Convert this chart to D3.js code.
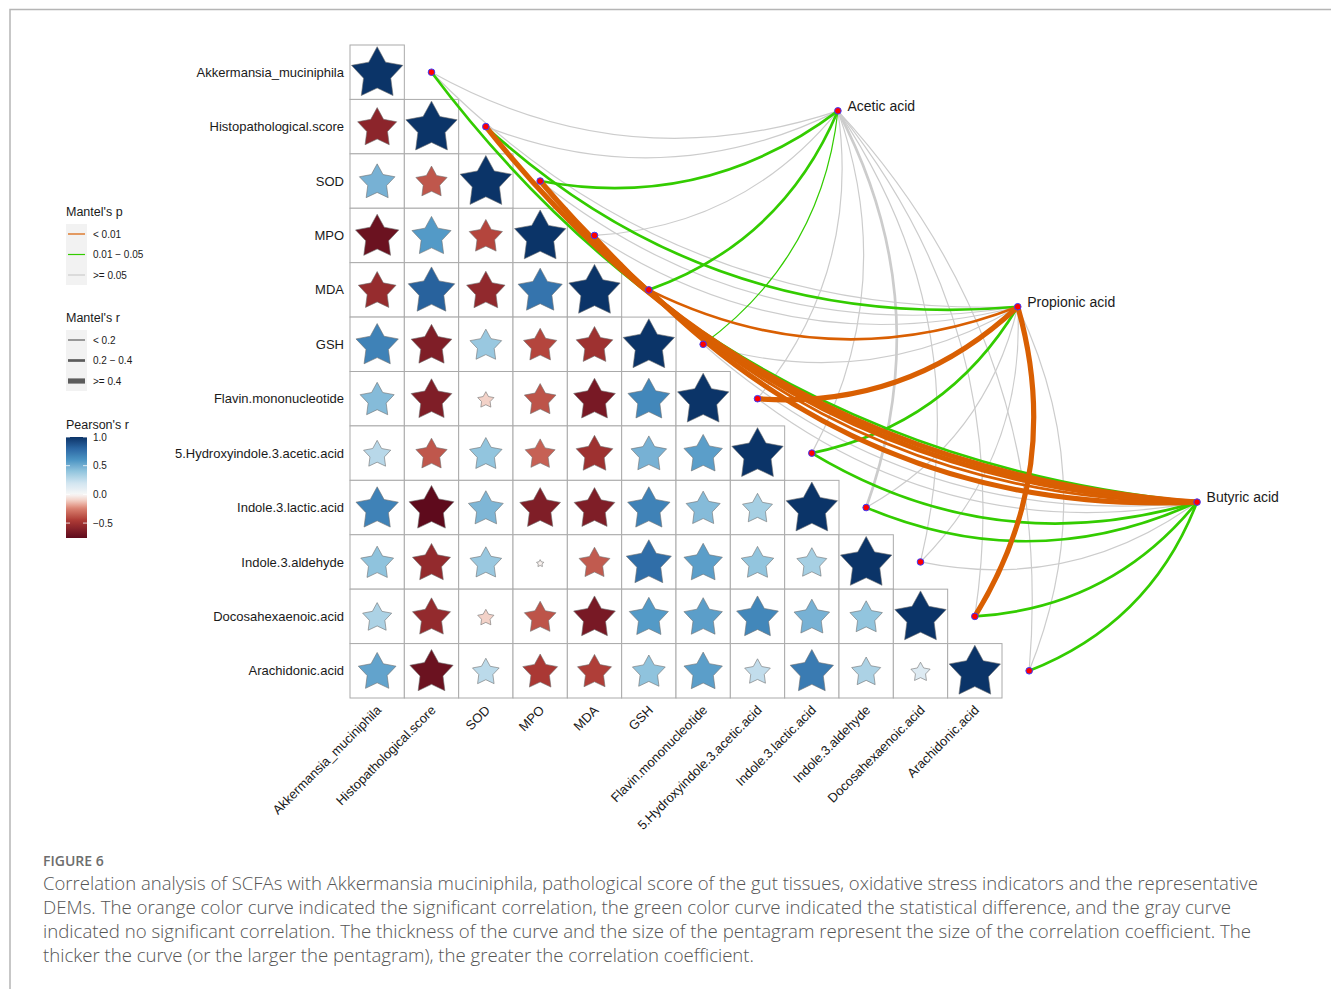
<!DOCTYPE html>
<html>
<head>
<meta charset="utf-8">
<script src="https://cdn.jsdelivr.net/npm/d3@7"></script>
<style>
  body { margin: 0; background: #fff; }
  svg { display: block; }
  .lab { font-family: "Liberation Sans", Arial, Helvetica, sans-serif; fill: #1a1a1a; }
  .cap { font-family: "Open Sans", "Noto Sans", sans-serif; }
</style>
</head>
<body>
<svg id="chart" width="1331" height="989"></svg>
<script>
// ---- variables shown on both axes of the correlation triangle ----
const variables = [
  "Akkermansia_muciniphila", "Histopathological.score", "SOD", "MPO", "MDA", "GSH",
  "Flavin.mononucleotide", "5.Hydroxyindole.3.acetic.acid", "Indole.3.lactic.acid",
  "Indole.3.aldehyde", "Docosahexaenoic.acid", "Arachidonic.acid"
];

// Pearson's r, lower triangle (row i holds columns 0..i)
const pearsonRows = [
  [1],
  [-0.58, 1],
  [0.48, -0.37, 1],
  [-0.71, 0.58, -0.42, 1],
  [-0.54, 0.82, -0.56, 0.74, 1],
  [0.68, -0.63, 0.38, -0.42, -0.51, 1],
  [0.44, -0.63, -0.10, -0.38, -0.66, 0.66, 1],
  [0.28, -0.37, 0.40, -0.34, -0.51, 0.48, 0.56, 1],
  [0.68, -0.76, 0.46, -0.63, -0.63, 0.68, 0.44, 0.34, 1],
  [0.41, -0.55, 0.38, -0.02, -0.36, 0.77, 0.56, 0.40, 0.34, 1],
  [0.32, -0.55, -0.10, -0.38, -0.66, 0.58, 0.56, 0.66, 0.48, 0.40, 1],
  [0.54, -0.71, 0.27, -0.46, -0.44, 0.41, 0.56, 0.25, 0.71, 0.32, 0.14, 1]
];

// ---- SCFAs linked by Mantel tests ----
const scfaNames = ["Acetic acid", "Propionic acid", "Butyric acid"];
// node placement of each SCFA in cell units (column, row) of the grid
const scfaCellPos = [[8.98, 1.21], [12.29, 4.81], [15.59, 8.40]];

// Mantel's r and p per variable (same order as `variables`)
const mantelR_acetic    = [0.12, 0.15, 0.28, 0.10, 0.25, 0.16, 0.14, 0.12, 0.27, 0.11, 0.09, 0.13];
const mantelP_acetic    = [0.21, 0.15, 0.030, 0.32, 0.040, 0.045, 0.18, 0.26, 0.08, 0.41, 0.52, 0.36];
const mantelR_propionic = [0.11, 0.29, 0.13, 0.15, 0.32, 0.12, 0.47, 0.27, 0.10, 0.09, 0.46, 0.14];
const mantelP_propionic = [0.24, 0.020, 0.18, 0.12, 0.008, 0.31, 0.002, 0.030, 0.36, 0.44, 0.003, 0.16];
const mantelR_butyric   = [0.30, 0.48, 0.45, 0.36, 0.44, 0.14, 0.15, 0.28, 0.26, 0.13, 0.29, 0.31];
const mantelP_butyric   = [0.020, 0.001, 0.002, 0.004, 0.003, 0.11, 0.09, 0.020, 0.030, 0.19, 0.020, 0.015];

const mantelR = [mantelR_acetic, mantelR_propionic, mantelR_butyric];
const mantelP = [mantelP_acetic, mantelP_propionic, mantelP_butyric];

// legend text
const pLegendLabels = ["< 0.01", "0.01 \u2212 0.05", ">= 0.05"];
const rLegendLabels = ["< 0.2", "0.2 \u2212 0.4", ">= 0.4"];
const colorbarTicks = [1.0, 0.5, 0.0, -0.5];

const captionTitle = "FIGURE 6";
const captionLines = [
  "Correlation analysis of SCFAs with Akkermansia muciniphila, pathological score of the gut tissues, oxidative stress indicators and the representative",
  "DEMs. The orange color curve indicated the significant correlation, the green color curve indicated the statistical difference, and the gray curve",
  "indicated no significant correlation. The thickness of the curve and the size of the pentagram represent the size of the correlation coefficient. The",
  "thicker the curve (or the larger the pentagram), the greater the correlation coefficient."
];

// ------------------------------------------------------------------
const svg = d3.select("#chart");
const n = variables.length;

// grid scales (cell index -> pixels)
const gx = d3.scaleLinear().domain([0, n]).range([350, 1002]);
const gy = d3.scaleLinear().domain([0, n]).range([45, 698]);
const cellW = gx(1) - gx(0), cellH = gy(1) - gy(0);

// flatten the triangle
const cells = [];
pearsonRows.forEach((row, i) => row.forEach((r, j) => cells.push({ i, j, r })));
const rMin = d3.min(cells, d => d.r);

// fill colour (RdBu style, white at zero)
const negColor = d3.scaleLinear()
  .domain([rMin, -0.62, -0.45, -0.25, -0.1, 0])
  .range(["#5e0a1c", "#821f28", "#ad3a35", "#d98070", "#f3d2c8", "#f7f7f7"])
  .interpolate(d3.interpolateLab).clamp(true);
const posColor = d3.scaleLinear()
  .domain([0, 0.2, 0.4, 0.6, 0.8, 1])
  .range(["#f7f7f7", "#d1e5f0", "#92c5de", "#4b95c4", "#2b67a3", "#0b3468"])
  .interpolate(d3.interpolateLab).clamp(true);
const fillColor = r => (r < 0 ? negColor(r) : posColor(r));

// star size: area proportional to |r|
const starR = d3.scaleSqrt().domain([0, 1]).range([0, 27]);

function starPath(R, ratio) {
  const pts = [];
  for (let k = 0; k < 10; k++) {
    const a = -Math.PI / 2 + k * Math.PI / 5;
    const rr = k % 2 === 0 ? R : R * ratio;
    pts.push([rr * Math.cos(a), rr * Math.sin(a)]);
  }
  return "M" + pts.map(p => p[0].toFixed(2) + "," + p[1].toFixed(2)).join("L") + "Z";
}

// ---- frame around the figure ----
svg.append("path")
  .attr("d", "M10,989V9.5H1331")
  .attr("fill", "none").attr("stroke", "#b5b5b5").attr("stroke-width", 1.5);

// ---- grid cells ----
const gCells = svg.append("g");
gCells.selectAll("rect").data(cells).join("rect")
  .attr("x", d => gx(d.j)).attr("y", d => gy(d.i))
  .attr("width", cellW).attr("height", cellH)
  .attr("fill", "#fff").attr("stroke", "#aaaaaa").attr("stroke-width", 1);

// ---- stars ----
gCells.selectAll("path.star").data(cells).join("path")
  .attr("class", "star")
  .attr("transform", d => `translate(${gx(d.j + 0.5)},${gy(d.i + 0.5) + 1.5})`)
  .attr("d", d => starPath(starR(Math.abs(d.r)), 0.53))
  .attr("fill", d => fillColor(d.r))
  .attr("stroke", "#707070").attr("stroke-width", 0.6);

// ---- row labels ----
svg.append("g").selectAll("text").data(variables).join("text")
  .attr("class", "lab")
  .attr("x", 344).attr("y", (d, i) => gy(i + 0.5))
  .attr("dy", "0.35em").attr("text-anchor", "end")
  .attr("font-size", 13).text(d => d);

// ---- column labels (rotated) ----
svg.append("g").selectAll("text").data(variables).join("text")
  .attr("class", "lab")
  .attr("transform", (d, i) => `translate(${gx(i + 0.5) + 5},${711}) rotate(-45)`)
  .attr("text-anchor", "end").attr("font-size", 13).text(d => d);

// ---- Mantel links ----
const pColor = d3.scaleThreshold().domain([0.01, 0.05]).range(["#d95f02", "#33cc00", "#cccccc"]);
const rWidth = d3.scaleThreshold().domain([0.2, 0.4]).range([1.2, 2.7, 5.2]);
const pRank = d3.scaleThreshold().domain([0.01, 0.05]).range([2, 1, 0]);

const nodePos = i => [gx(i + 1.5), gy(i + 0.5)];
const scfaPos = scfaCellPos.map(p => [gx(p[0]), gy(p[1])]);

const links = [];
scfaNames.forEach((s, k) => {
  variables.forEach((v, i) => {
    links.push({ k, i, r: mantelR[k][i], p: mantelP[k][i] });
  });
});
links.sort((a, b) => pRank(a.p) - pRank(b.p) || a.r - b.r);

const curvature = 0.11; // sagitta as a share of the chord length
function curvePath(a, b) {
  const dx = b[0] - a[0], dy = b[1] - a[1];
  const L = Math.hypot(dx, dy);
  const nx = -dy / L, ny = dx / L;
  const off = 2 * curvature * L;
  const cx = (a[0] + b[0]) / 2 + nx * off, cy = (a[1] + b[1]) / 2 + ny * off;
  const p = d3.path();
  p.moveTo(a[0], a[1]);
  p.quadraticCurveTo(cx, cy, b[0], b[1]);
  return p.toString();
}

svg.append("g").selectAll("path").data(links).join("path")
  .attr("d", d => curvePath(nodePos(d.i), scfaPos[d.k]))
  .attr("fill", "none")
  .attr("stroke", d => pColor(d.p))
  .attr("stroke-width", d => rWidth(d.r))
  .attr("stroke-linecap", "butt");

// ---- nodes ----
const gNodes = svg.append("g");
gNodes.selectAll("circle.v").data(variables).join("circle")
  .attr("class", "v")
  .attr("cx", (d, i) => nodePos(i)[0]).attr("cy", (d, i) => nodePos(i)[1])
  .attr("r", 3.3).attr("fill", "#ff0000").attr("stroke", "#3b3bff").attr("stroke-width", 1);
gNodes.selectAll("circle.s").data(scfaNames).join("circle")
  .attr("class", "s")
  .attr("cx", (d, k) => scfaPos[k][0]).attr("cy", (d, k) => scfaPos[k][1])
  .attr("r", 3.3).attr("fill", "#ff0000").attr("stroke", "#3b3bff").attr("stroke-width", 1);
gNodes.selectAll("text").data(scfaNames).join("text")
  .attr("class", "lab")
  .attr("x", (d, k) => scfaPos[k][0] + 9.5).attr("y", (d, k) => scfaPos[k][1] - 5)
  .attr("dy", "0.35em").attr("font-size", 14).text(d => d);

// ---- legends ----
const lg = svg.append("g").attr("class", "lab");

// Mantel's p
lg.append("text").attr("x", 66).attr("y", 216).attr("font-size", 12.5).text("Mantel's p");
lg.append("rect").attr("x", 66).attr("y", 224).attr("width", 21).attr("height", 61).attr("fill", "#f2f2f2");
const pKeyVals = [0.005, 0.03, 0.2];
pKeyVals.forEach((v, q) => {
  const y = 234 + q * 20.5;
  lg.append("line").attr("x1", 68).attr("x2", 85).attr("y1", y).attr("y2", y)
    .attr("stroke", pColor(v)).attr("stroke-width", 1.2);
  lg.append("text").attr("x", 93).attr("y", y).attr("dy", "0.35em").attr("font-size", 10).text(pLegendLabels[q]);
});

// Mantel's r
lg.append("text").attr("x", 66).attr("y", 322).attr("font-size", 12.5).text("Mantel's r");
lg.append("rect").attr("x", 66).attr("y", 330).attr("width", 21).attr("height", 61).attr("fill", "#f2f2f2");
const rKeyVals = [0.1, 0.3, 0.5];
rKeyVals.forEach((v, q) => {
  const y = 340 + q * 20.5;
  lg.append("line").attr("x1", 68).attr("x2", 85).attr("y1", y).attr("y2", y)
    .attr("stroke", "#5c5c5c").attr("stroke-width", rWidth(v));
  lg.append("text").attr("x", 93).attr("y", y).attr("dy", "0.35em").attr("font-size", 10).text(rLegendLabels[q]);
});

// Pearson's r colour bar
lg.append("text").attr("x", 66).attr("y", 429).attr("font-size", 12.5).text("Pearson's r");
const cbY = d3.scaleLinear().domain([1, rMin]).range([437, 538]);
const grad = svg.append("defs").append("linearGradient").attr("id", "cbar")
  .attr("x1", 0).attr("y1", 0).attr("x2", 0).attr("y2", 1);
d3.range(0, 1.0001, 0.02).forEach(t => {
  const v = 1 + t * (rMin - 1);
  grad.append("stop").attr("offset", t).attr("stop-color", fillColor(v));
});
lg.append("rect").attr("x", 66).attr("y", cbY(1)).attr("width", 21)
  .attr("height", cbY(rMin) - cbY(1)).attr("fill", "url(#cbar)");
colorbarTicks.forEach(v => {
  const y = cbY(v);
  lg.append("line").attr("x1", 66).attr("x2", 70).attr("y1", y).attr("y2", y).attr("stroke", "#fff").attr("stroke-width", 0.8);
  lg.append("line").attr("x1", 83).attr("x2", 87).attr("y1", y).attr("y2", y).attr("stroke", "#fff").attr("stroke-width", 0.8);
  lg.append("text").attr("x", 93).attr("y", y).attr("dy", "0.35em").attr("font-size", 10)
    .text(v === 0 ? "0.0" : (v < 0 ? "\u2212" : "") + Math.abs(v).toFixed(1));
});

// ---- caption ----
const cap = svg.append("g").attr("class", "cap");
cap.append("text").attr("x", 43).attr("y", 866).attr("font-size", 14).attr("font-weight", 600)
  .attr("fill", "#6d6d6d").text(captionTitle);
const capWidths = [1215, 1188, 1208, 711];
captionLines.forEach((t, q) => {
  cap.append("text").attr("x", 43).attr("y", 890 + q * 24).attr("font-size", 17.5)
    .attr("font-weight", 300).attr("fill", "#555")
    .attr("textLength", capWidths[q]).attr("lengthAdjust", "spacingAndGlyphs").text(t);
});
</script>
</body>
</html>
